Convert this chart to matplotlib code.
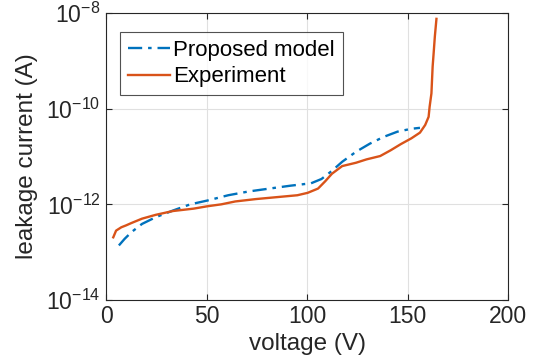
import matplotlib
matplotlib.use("Agg")
import matplotlib.pyplot as plt
import numpy as np

plt.rcParams['font.family'] = ['Liberation Sans', 'DejaVu Sans']
plt.rcParams['mathtext.default'] = 'regular'

# Proposed model (voltage V, log10 current)
model_v = [6.4, 9.3, 12.7, 17.9, 24.7, 33.3, 41.9, 50.5, 60.8, 71.1, 81.4, 91.8,
           102.0, 107.2, 112.4, 117.5, 124.4, 131.3, 138.1, 145.0, 151.9, 156.2]
model_log = [-12.86, -12.72, -12.58, -12.41, -12.27, -12.13, -12.0, -11.92, -11.81,
             -11.73, -11.67, -11.61, -11.56, -11.47, -11.30, -11.11, -10.90, -10.73,
             -10.59, -10.48, -10.42, -10.40]

# Experiment
exp_v = [3.6, 5.0, 7.6, 10.0, 12.7, 17.9, 24.7, 33.3, 43.6, 50.5, 57.4, 64.3, 74.6,
         84.9, 95.2, 100.3, 105.5, 109.0, 112.4, 117.5, 124.4, 129.6, 136.4, 141.6,
         146.7, 151.9, 156.2, 158.8, 160.5, 161.0, 161.9, 162.5, 163.0, 163.6, 164.4]
exp_log = [-12.69, -12.55, -12.48, -12.44, -12.39, -12.30, -12.22, -12.14, -12.09,
           -12.04, -12.0, -11.94, -11.89, -11.85, -11.81, -11.76, -11.67, -11.52,
           -11.36, -11.20, -11.13, -11.06, -10.99, -10.87, -10.74, -10.62, -10.50,
           -10.34, -10.17, -9.96, -9.68, -9.12, -8.84, -8.49, -8.12]

x_ticks = [0, 50, 100, 150, 200]
y_ticks = [1e-14, 1e-12, 1e-10, 1e-8]
y_tick_labels = [r'$10^{-14}$', r'$10^{-12}$', r'$10^{-10}$', r'$10^{-8}$']

fig = plt.figure(figsize=(5.41, 3.64), dpi=100)
ax = fig.add_axes([0.196, 0.176, 0.743, 0.788])

ax.plot(model_v, 10 ** np.array(model_log), linestyle='-.', color='#0072BD',
        lw=1.7, label='Proposed model', dashes=(6, 2.5, 1.5, 2.5))
ax.plot(exp_v, 10 ** np.array(exp_log), linestyle='-', color='#D95319',
        lw=1.7, label='Experiment')

ax.set_yscale('log')
ax.set_xlim(0, 200)
ax.set_ylim(1e-14, 1e-8)
ax.set_xticks(x_ticks)
ax.set_yticks(y_ticks)
ax.set_yticklabels(y_tick_labels)
ax.yaxis.set_minor_locator(matplotlib.ticker.NullLocator())

ax.grid(True, color='#e0e0e0', lw=0.8)
ax.set_axisbelow(True)
ax.tick_params(direction='in', top=True, right=True, labelsize=16.5, colors='#262626',
               length=4, width=0.8, pad=4)
for s in ax.spines.values():
    s.set_color('#262626')
    s.set_linewidth(0.8)

ax.set_xlabel('voltage (V)', fontsize=17.5, color='#262626', labelpad=3)
ax.set_ylabel('leakage current (A)', fontsize=17.5, color='#262626', labelpad=0)
ax.yaxis.set_label_coords(-0.17, 0.5)

leg = ax.legend(loc='upper left', fontsize=16, frameon=True, fancybox=False,
                edgecolor='#262626', borderpad=0.35, handlelength=1.9,
                handletextpad=0.15, labelspacing=0.25, borderaxespad=0.0,
                bbox_to_anchor=(0.035, 0.934))
leg.get_frame().set_linewidth(0.8)

fig.savefig('out.png', dpi=100)
